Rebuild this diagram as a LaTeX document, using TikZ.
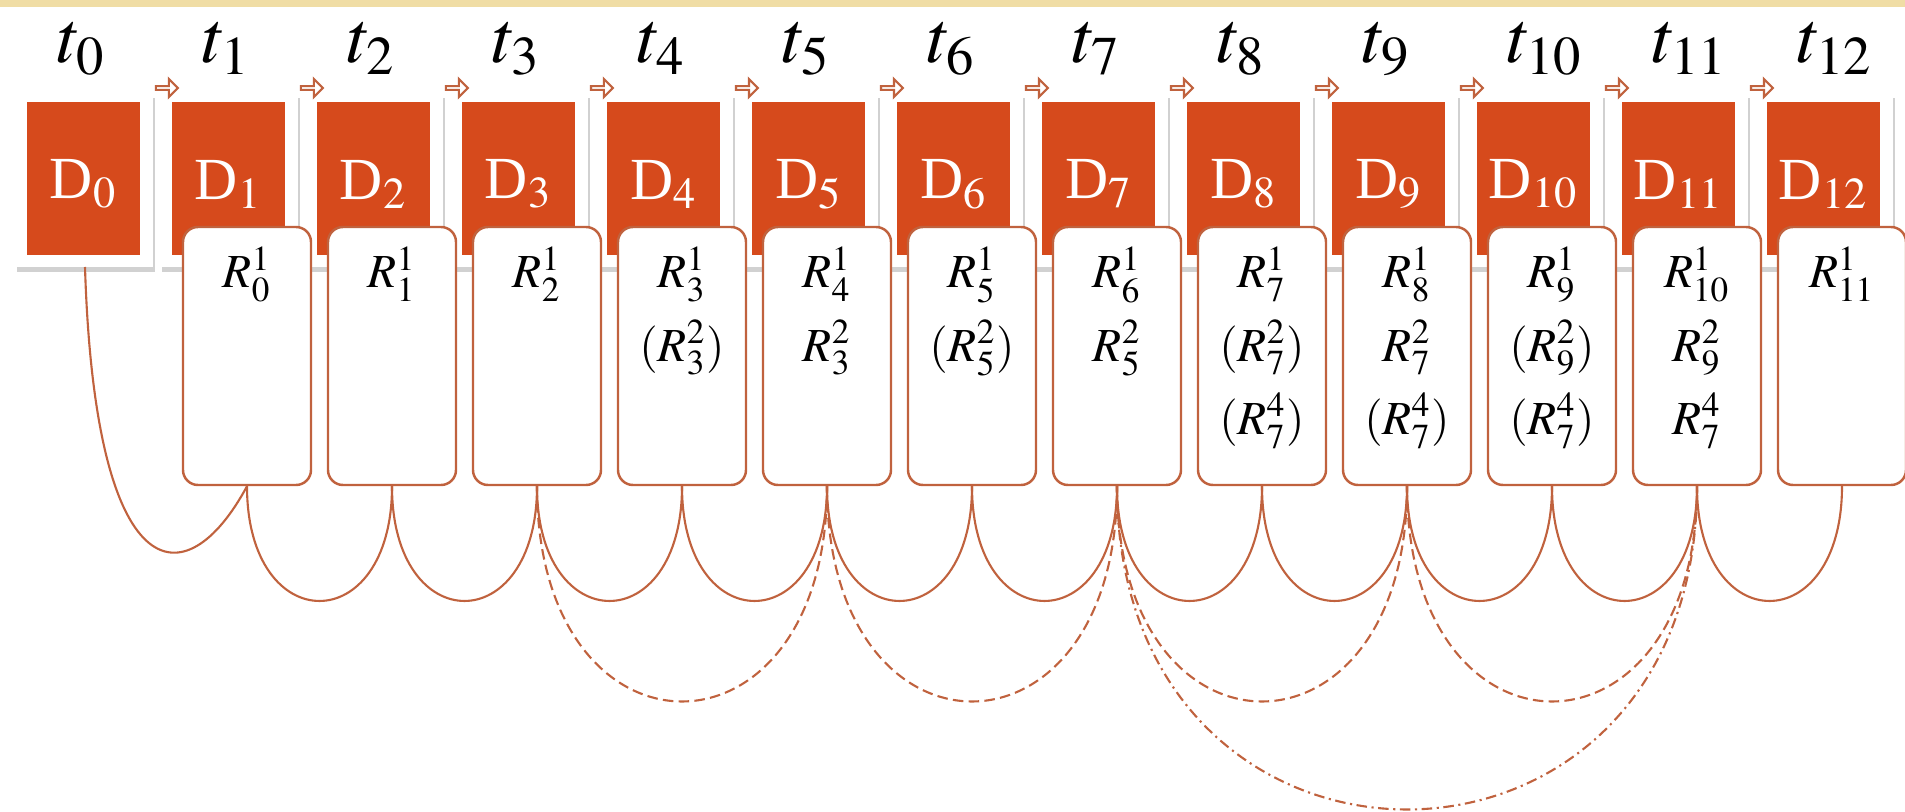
\documentclass[tikz,border=0pt]{standalone}
\usepackage{mathptmx}
\usepackage{fontspec}
\setmainfont{Liberation Serif}
\usetikzlibrary{shapes.arrows,shadows}
\definecolor{dorange}{RGB}{214,74,28}
\definecolor{rline}{RGB}{192,98,62}
\definecolor{topband}{RGB}{240,221,165}

\begin{document}
\begin{tikzpicture}[
	dframe/.style = {fill=white, drop shadow={shadow xshift=0.025cm, shadow yshift=-0.05cm, fill=black!60, opacity=0.3}},
	dlab/.style = {text=white, inner sep=1pt, font=\fontsize{17}{20}\selectfont},
	tlab/.style = {anchor=base west, inner sep=0, font=\fontsize{21}{24}\selectfont},
	nextarrow/.style = {single arrow, draw=rline, fill=white, line width=0.6pt, inner sep=0,
		minimum height=0.22cm, minimum width=0.18cm, single arrow head extend=0.04cm},
	rbox/.style = {draw=rline, line width=0.7pt, fill=white, rounded corners=0.15cm, inner sep=0,
		anchor=base, minimum width=1.28cm, text height=0.61cm, text depth=1.97cm,
		font=\fontsize{13.5}{20.8}\selectfont},
	link/.style = {draw=rline, line width=0.6pt},
	longdash/.style = {link, dash pattern=on 3pt off 1.5pt},
	dashdot/.style = {link, dash pattern=on 3pt off 1.3pt on 0.6pt off 1.3pt}]
	\useasboundingbox (0,0) rectangle (19.05,-8.12);
	\fill[topband] (0,0) rectangle (19.05,-0.07);
	% time steps and data blocks
	\foreach \i in {0,...,12} {
		\fill[dframe] ({0.145+1.45*\i},-0.93) rectangle ({1.525+1.45*\i},-2.67);
		\fill[dorange] ({0.27+1.45*\i},-1.02) rectangle ({1.40+1.45*\i},-2.55);
		\node[dlab] (d\i) at ({0.835+1.45*\i},-1.84) {D$_{\i}$};
		\node[tlab] (t\i) at ({0.57+1.45*\i},-0.63) {$t_{\i}$};
	}
	\coordinate (f0) at (0.85,-2.67);
	\foreach \i in {1,...,12}
		\node[nextarrow] (a\i) at ({0.21+1.45*\i},-0.88) {};
	% result boxes
	\foreach \i/\txt in {0/{$R_{0}^{1}$}, 1/{$R_{1}^{1}$}, 2/{$R_{2}^{1}$},
		3/{$R_{3}^{1}$\\$(R_{3}^{2})$}, 4/{$R_{4}^{1}$\\$R_{3}^{2}$},
		5/{$R_{5}^{1}$\\$(R_{5}^{2})$}, 6/{$R_{6}^{1}$\\$R_{5}^{2}$},
		7/{$R_{7}^{1}$\\$(R_{7}^{2})$\\$(R_{7}^{4})$}, 8/{$R_{8}^{1}$\\$R_{7}^{2}$\\$(R_{7}^{4})$},
		9/{$R_{9}^{1}$\\$(R_{9}^{2})$\\$(R_{7}^{4})$}, 10/{$R_{10}^{1}$\\$R_{9}^{2}$\\$R_{7}^{4}$},
		11/{$R_{11}^{1}$}}
		\node[rbox] (r\i) at ({2.47+1.45*\i},-2.88) {\begin{tabular}[t]{@{}c@{}}\txt\end{tabular}};
	% links
	\draw[link] (f0) .. controls +(0.10,-3.23) and +(-0.62,-1.15) .. (r0.south);
	\foreach \i [count=\j from 1] in {0,...,10}
		\draw[link] (r\i.south) .. controls +(0,-1.53) and +(0,-1.53) .. (r\j.south);
	\foreach \a/\b in {2/4,4/6,6/8,8/10}
		\draw[longdash] (r\a.south) .. controls +(0,-2.87) and +(0,-2.87) .. (r\b.south);
	\draw[dashdot] (r6.south) .. controls +(0,-4.31) and +(0,-4.31) .. (r10.south);
\end{tikzpicture}
\end{document}
